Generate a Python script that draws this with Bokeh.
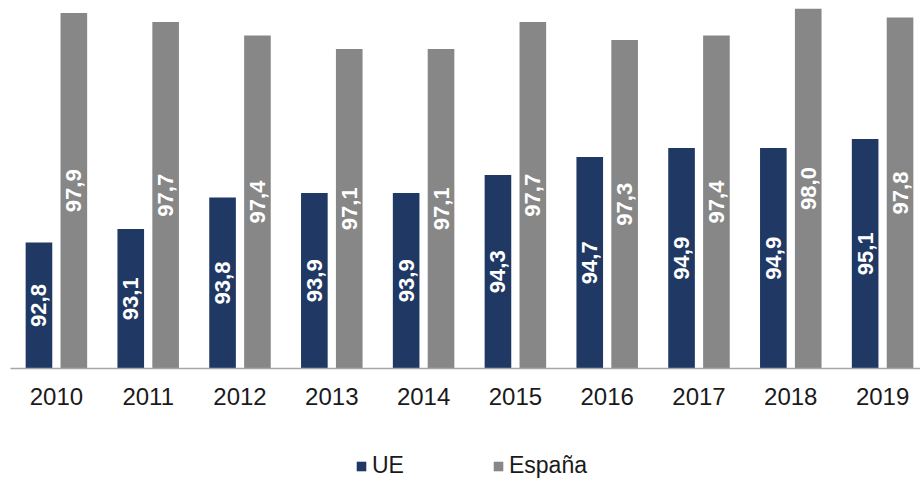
from bokeh.plotting import figure
from bokeh.layouts import column
from bokeh.models import Range1d, FixedTicker, Legend, LegendItem, ColumnDataSource
from bokeh.core.properties import value
from bokeh.embed import file_html
from bokeh.resources import INLINE
import math

years = ["2010", "2011", "2012", "2013", "2014", "2015", "2016", "2017", "2018", "2019"]
ue = [92.8, 93.1, 93.8, 93.9, 93.9, 94.3, 94.7, 94.9, 94.9, 95.1]
es = [97.9, 97.7, 97.4, 97.1, 97.1, 97.7, 97.3, 97.4, 98.0, 97.8]
series = ["UE", "España"]
colors = ["#1f3864", "#878787"]
base = 90.0

off = 0.19
bw = 0.29
idx = list(range(len(years)))

def fmt(v):
    return ("%.1f" % v).replace(".", ",")

src_ue = ColumnDataSource(dict(
    x=[i - off for i in idx], top=ue, mid=[(base + v) / 2 for v in ue],
    lab=[fmt(v) for v in ue]))
src_es = ColumnDataSource(dict(
    x=[i + off for i in idx], top=es, mid=[(base + v) / 2 for v in es],
    lab=[fmt(v) for v in es]))

p = figure(width=920, height=420, x_range=Range1d(-0.5, 9.413),
           y_range=Range1d(base, 98.0), output_backend="svg",
           toolbar_location=None, y_axis_location=None,
           min_border_left=10, min_border_right=0, min_border_top=8,
           min_border_bottom=52)
p.outline_line_color = None
p.xgrid.visible = False
p.ygrid.visible = False

p.vbar(x="x", top="top", bottom=base, width=bw, source=src_ue,
       fill_color=colors[0], line_color=None)
p.vbar(x="x", top="top", bottom=base, width=bw, source=src_es,
       fill_color=colors[1], line_color=None)

for s in (src_ue, src_es):
    p.text(x="x", y="mid", text="lab", source=s, angle=math.pi / 2,
           text_align="center", text_baseline="middle",
           text_color="white", text_font=value("Liberation Sans"),
           text_font_style="bold", text_font_size="22px")

ax = p.xaxis[0]
ax.ticker = FixedTicker(ticks=idx)
ax.major_label_overrides = {i: y for i, y in zip(idx, years)}
ax.major_tick_line_color = None
ax.major_tick_out = 0
ax.minor_tick_line_color = None
ax.minor_tick_out = 0
ax.axis_line_color = "#a6a6a6"
ax.axis_line_width = 1.5
ax.major_label_standoff = 19
ax.major_label_text_font = "Liberation Sans"
ax.major_label_text_font_size = "24px"
ax.major_label_text_color = "#1a1a1a"

# legend strip below the chart
q = figure(width=920, height=59, x_range=Range1d(0, 1), y_range=Range1d(0, 1),
           output_backend="svg", toolbar_location=None,
           x_axis_location=None, y_axis_location=None,
           min_border_left=0, min_border_right=0, min_border_top=0,
           min_border_bottom=0)
q.outline_line_color = None
q.xgrid.visible = False
q.ygrid.visible = False
items = []
for name, c in zip(series, colors):
    # zero-height swatch source: only its legend entry is visible
    r = q.vbar(x=[0.5], top=[0], bottom=0, width=0.0, fill_color=c,
               line_color=None)
    items.append(LegendItem(label=name, renderers=[r]))

legend = Legend(items=items, orientation="horizontal", location=(345, 0),
                glyph_width=12, glyph_height=12, label_standoff=5,
                spacing=88, padding=0, margin=0, border_line_color=None,
                background_fill_alpha=0,
                label_text_font="Liberation Sans", label_text_font_size="23px",
                label_text_color="#1a1a1a")
q.add_layout(legend, "center")

open("out.html", "w").write(file_html(column(p, q, spacing=0), INLINE))
